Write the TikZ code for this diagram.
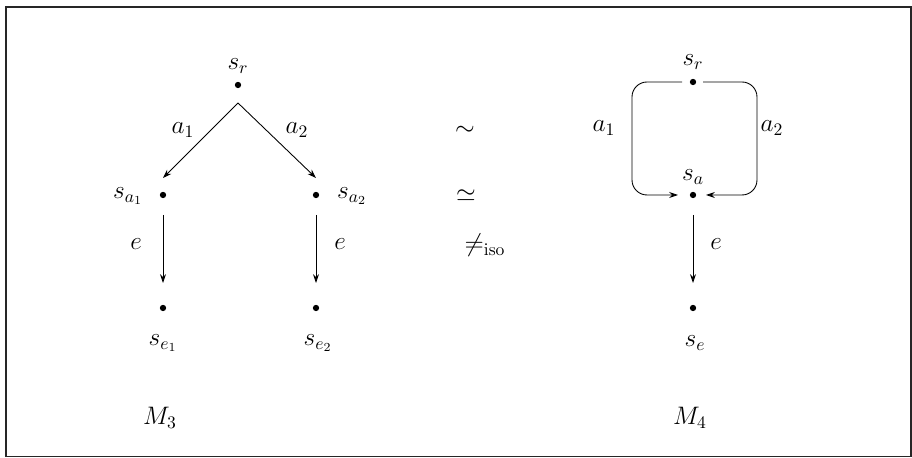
\documentclass[tikz,border=0pt]{standalone}
\usepackage{amsmath}
\usepackage{amssymb}
\usepackage{tikz}
\usetikzlibrary{arrows.meta}

\begin{document}
\begin{tikzpicture}[
  font=\fontsize{14}{17}\selectfont,
  dot/.style={circle, fill=black, inner sep=0pt, minimum size=3.6pt},
  arr/.style={-{Stealth[length=5pt, width=3.4pt]}, line width=0.5pt},
]
  \useasboundingbox (0,0) rectangle (18.24,9.16);
  % Frame
  \draw[line width=1pt, black!85] (0.12,0.03) rectangle (18.22,9.02);

  % --- M_3: tree ---
  \node[dot] (lr)  at (4.76,7.46) {};
  \node[dot] (la1) at (3.26,5.26) {};
  \node[dot] (la2) at (6.32,5.26) {};
  \node[dot] (le1) at (3.26,3.00) {};
  \node[dot] (le2) at (6.32,3.00) {};
  \node (lrtxt)  at (4.76,7.84) {$s_r$};
  \node (la1txt) at (2.56,5.24) {$s_{a_1}$};
  \node (la2txt) at (7.04,5.24) {$s_{a_2}$};
  \node (le1txt) at (3.26,2.30) {$s_{e_1}$};
  \node (le2txt) at (6.36,2.30) {$s_{e_2}$};
  % Edges
  \draw[arr] ([yshift=-0.36cm]lr.center) -- ([yshift=0.34cm]la1.center);
  \draw[arr] ([yshift=-0.36cm]lr.center) -- ([yshift=0.34cm]la2.center);
  \draw[arr] ([yshift=-0.40cm]la1.center) -- ([yshift=0.50cm]le1.center);
  \draw[arr] ([yshift=-0.40cm]la2.center) -- ([yshift=0.50cm]le2.center);
  \node (lact1) at (3.66,6.56) {$a_1$};
  \node (lact2) at (5.94,6.56) {$a_2$};
  \node (lev1)  at (2.72,4.28) {$e$};
  \node (lev2)  at (6.80,4.28) {$e$};
  \node (m3) at (3.20,0.80) {$M_3$};

  % --- Relations ---
  \node (bisim) at (9.30,6.54) {$\sim$};
  \node (iso)   at (9.32,5.24) {$\simeq$};
  \node (niso)  at (9.70,4.26) {$\neq_{\mathrm{iso}}$};

  % --- M_4: loop ---
  \node[dot] (rr) at (13.86,7.52) {};
  \node[dot] (ra) at (13.86,5.26) {};
  \node[dot] (re) at (13.86,3.00) {};
  \node (rrtxt) at (13.86,7.92) {$s_r$};
  \node (ratxt) at (13.86,5.62) {$s_a$};
  \node (retxt) at (13.90,2.30) {$s_e$};
  \draw[arr, rounded corners=0.3cm]
    ([xshift=-0.22cm]rr.center) -| ([xshift=-1.22cm]ra.center) -- ([xshift=-0.30cm]ra.center);
  \draw[arr, rounded corners=0.3cm]
    ([xshift=0.20cm]rr.center) -| ([xshift=1.28cm]ra.center) -- ([xshift=0.26cm]ra.center);
  \draw[arr] ([yshift=-0.40cm]ra.center) -- ([yshift=0.50cm]re.center);
  \node (ract1) at (12.08,6.60) {$a_1$};
  \node (ract2) at (15.44,6.60) {$a_2$};
  \node (rev)   at (14.32,4.28) {$e$};
  \node (m4) at (13.80,0.80) {$M_4$};
\end{tikzpicture}
\end{document}
